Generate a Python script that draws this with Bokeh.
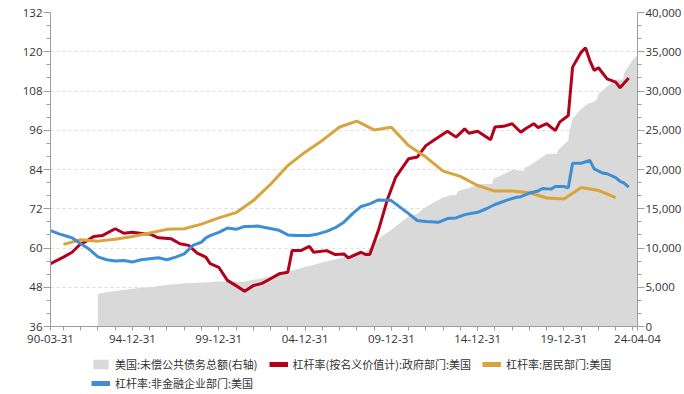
import datetime as dt
from bokeh.plotting import figure
from bokeh.layouts import column
from bokeh.models import (Range1d, LinearAxis, FixedTicker, NumeralTickFormatter,
                          Legend, LegendItem)
from bokeh.embed import file_html
from bokeh.resources import INLINE

# ---------------- data ----------------
# US public debt outstanding (right axis), month-end dates
debt_dates = ["1992-12", "1993-06", "1993-12", "1994-06", "1994-12", "1995-06", "1995-12",
              "1996-06", "1996-12", "1997-06", "1997-12", "1998-06", "1998-12", "1999-06",
              "1999-12", "2000-06", "2000-12", "2001-06", "2001-12", "2002-06", "2002-12",
              "2003-06", "2003-12", "2004-06", "2004-12", "2005-06", "2005-12", "2006-06",
              "2006-12", "2007-06", "2007-12", "2008-06", "2008-09", "2008-12", "2009-06",
              "2009-12", "2010-06", "2010-12", "2011-06", "2011-08", "2011-12", "2012-06",
              "2012-12", "2013-06", "2013-09", "2013-10", "2013-12", "2014-06", "2014-12",
              "2015-06", "2015-10", "2015-11", "2015-12", "2016-06", "2016-12", "2017-06",
              "2017-08", "2017-09", "2017-12", "2018-06", "2018-12", "2019-06", "2019-07",
              "2019-08", "2019-12", "2020-03", "2020-04", "2020-06", "2020-12", "2021-06",
              "2021-07", "2021-11", "2021-12", "2022-06", "2022-12", "2023-01", "2023-05",
              "2023-06", "2023-09", "2023-12", "2024-03", "2024-04-04"]
debt_values = [4170, 4350, 4530, 4650, 4800, 4950, 5000,
               5160, 5320, 5380, 5500, 5550, 5610, 5640,
               5780, 5690, 5660, 5730, 5940, 6130, 6400,
               6670, 7000, 7270, 7600, 7840, 8170, 8420,
               8680, 8870, 9230, 9490, 10020, 10700, 11550,
               12310, 13200, 14030, 14340, 14680, 15220, 15860,
               16430, 16740, 16740, 17160, 17350, 17630, 18140,
               18150, 18150, 18830, 18920, 19380, 19980, 19840,
               19840, 20240, 20490, 21200, 21970, 22020, 22020,
               22470, 23200, 23690, 24970, 26480, 27750, 28530,
               28430, 28910, 29620, 30570, 31420, 31450, 31460,
               32330, 33170, 34000, 34590, 34620]

# Government leverage ratio (nominal)
gov_dates = ["1990-03", "1990-12", "1991-06", "1991-12", "1992-03", "1992-09", "1993-03",
             "1993-12", "1994-06", "1994-12", "1995-09", "1995-12", "1996-06", "1997-03",
             "1997-09", "1998-03", "1998-09", "1999-03", "1999-06", "1999-12", "2000-06",
             "2000-12", "2001-06", "2001-12", "2002-06", "2002-12", "2003-06", "2003-12",
             "2004-03", "2004-09", "2005-03", "2005-06", "2006-03", "2006-09", "2007-03",
             "2007-06", "2008-03", "2008-06", "2008-09", "2009-03", "2009-09", "2010-03",
             "2010-12", "2011-06", "2011-12", "2012-06", "2013-03", "2013-09", "2014-03",
             "2014-06", "2014-12", "2015-09", "2015-12", "2016-06", "2016-12", "2017-06",
             "2017-09", "2018-03", "2018-06", "2018-12", "2019-06", "2019-09", "2020-03",
             "2020-06", "2020-12", "2021-03", "2021-06", "2021-09", "2021-12", "2022-06",
             "2022-12", "2023-03", "2023-09"]
gov_values = [55.2, 57.2, 58.7, 61.3, 61.8, 63.5, 63.8,
              65.9, 64.5, 64.8, 64.3, 64.3, 63.1, 62.8,
              61.3, 60.8, 58.4, 57.2, 55.2, 54.1, 50.1,
              48.5, 46.8, 48.5, 49.2, 50.6, 52.1, 52.6,
              59.2, 59.2, 60.5, 58.7, 59.2, 58.0, 58.2,
              57.0, 58.7, 58.0, 58.0, 65.4, 74.5, 81.6,
              87.3, 87.8, 91.3, 93.1, 95.7, 93.9, 96.4,
              95.1, 95.7, 93.1, 97.0, 97.2, 98.0, 95.4,
              96.4, 98.0, 96.8, 98.0, 95.9, 98.5, 100.5,
              115.3, 119.9, 121.2, 117.3, 114.3, 115.1, 111.7,
              110.7, 109.0, 112.0]

# Household leverage ratio (annual)
hh_dates = ["%d-12" % y for y in range(1990, 2023)]
hh_values = [61.1, 62.5, 62.1, 62.7, 63.5, 64.6, 65.7, 65.9, 67.3, 69.2,
             70.8, 74.5, 79.5, 85.2, 89.3, 92.9, 97.0, 98.8, 96.1, 96.9,
             91.3, 87.8, 83.5, 81.9, 79.1, 77.4, 77.4, 76.9, 75.3, 75.0,
             78.5, 77.6, 75.4]

# Non-financial corporate leverage ratio
corp_dates = ["1990-03", "1990-09", "1991-03", "1991-06", "1991-12", "1992-06", "1992-12",
              "1993-06", "1993-12", "1994-06", "1994-12", "1995-06", "1995-12", "1996-06",
              "1996-12", "1997-06", "1997-12", "1998-06", "1998-12", "1999-03", "1999-06",
              "1999-12", "2000-06", "2000-12", "2001-06", "2002-03", "2002-09", "2003-06",
              "2003-12", "2004-06", "2005-03", "2005-09", "2006-03", "2006-09", "2007-03",
              "2007-09", "2008-03", "2008-09", "2009-03", "2009-12", "2010-06", "2010-12",
              "2011-06", "2011-12", "2012-09", "2013-03", "2013-09", "2014-03", "2014-12",
              "2015-06", "2015-12", "2016-09", "2017-03", "2017-06", "2017-12", "2018-06",
              "2018-09", "2019-03", "2019-06", "2019-12", "2020-03", "2020-06", "2020-12",
              "2021-06", "2021-09", "2022-03", "2022-06", "2022-12", "2023-03", "2023-06",
              "2023-09"]
corp_values = [65.3, 64.3, 63.5, 63.1, 61.3, 59.6, 57.3,
               56.4, 56.0, 56.2, 55.7, 56.4, 56.7, 57.0,
               56.4, 57.2, 58.2, 60.8, 61.8, 63.1, 63.8,
               64.8, 66.1, 65.7, 66.6, 66.7, 66.2, 65.4,
               64.0, 63.8, 63.8, 64.3, 65.1, 66.2, 67.9,
               70.5, 72.7, 73.5, 74.7, 74.5, 72.5, 70.5,
               68.4, 68.1, 67.9, 69.0, 69.2, 70.2, 70.9,
               72.0, 73.3, 74.7, 75.5, 75.7, 76.8, 77.4,
               78.2, 78.0, 78.8, 78.8, 78.4, 85.9, 85.9,
               86.8, 84.2, 82.9, 82.7, 81.5, 80.4, 79.8,
               78.6]

x_tick_dates = ["1990-03-31", "1994-12-31", "1999-12-31", "2004-12-31",
                "2009-12-31", "2014-12-31", "2019-12-31", "2024-04-04"]
x_tick_labels = ["90-03-31", "94-12-31", "99-12-31", "04-12-31",
                 "09-12-31", "14-12-31", "19-12-31", "24-04-04"]
x_minor_dates = ["%d-12-31" % y for y in range(1990, 2024)]
left_ticks = list(range(36, 133, 12))
right_ticks = list(range(0, 40001, 5000))

names = ["美国:未偿公共债务总额(右轴)", "杠杆率(按名义价值计):政府部门:美国",
         "杠杆率:居民部门:美国", "杠杆率:非金融企业部门:美国"]
colors = ["#D9D9D9", "#B3001B", "#D9A43C", "#3D8ED3"]


def dec(s):
    parts = [int(v) for v in s.split("-")]
    if len(parts) == 2:
        return parts[0] + parts[1] / 12.0
    y, m, d = parts
    nxt = dt.date(y + (m == 12), m % 12 + 1, 1)
    dim = (nxt - dt.date(y, m, 1)).days
    return y + (m - 1) / 12.0 + d / dim / 12.0


x_start = dec(x_tick_dates[0])
x_end = dec(x_tick_dates[-1])

p = figure(width=684, height=352, output_backend="svg", toolbar_location=None,
           x_range=Range1d(x_start, x_end), y_range=Range1d(36, 132),
           min_border_left=50, min_border_right=46, min_border_top=12,
           min_border_bottom=26)
p.extra_y_ranges = {"debt": Range1d(0, 40000)}
p.outline_line_color = None
p.background_fill_color = "white"
p.border_fill_color = "white"

tick_font = "Open Sans"
axis_col = "#9E9E9E"
lab_col = "#333333"

# x axis
xa = p.xaxis[0]
xt = [round(dec(s), 9) for s in x_tick_dates]
xa.ticker = FixedTicker(ticks=xt, minor_ticks=[dec(s) for s in x_minor_dates] + [xt[-1]])
xa.major_label_overrides = {t: l for t, l in zip(xt, x_tick_labels)}
xa.major_tick_out = 4
xa.major_tick_in = 0
xa.minor_tick_out = 4
xa.minor_tick_in = 0
xa.major_label_standoff = 4

# left axis
ya = p.yaxis[0]
ya.ticker = FixedTicker(ticks=left_ticks, minor_ticks=list(range(36, 133, 4)))
ya.major_tick_out = 7
ya.major_tick_in = 0
ya.minor_tick_out = 4
ya.minor_tick_in = 0
ya.major_label_standoff = 1

# right axis
ra = LinearAxis(y_range_name="debt",
                ticker=FixedTicker(ticks=right_ticks,
                                   minor_ticks=[i * 5000 / 3 for i in range(25)]),
                formatter=NumeralTickFormatter(format="0,0"))
ra.major_tick_out = 7
ra.major_tick_in = 0
ra.minor_tick_out = 4
ra.minor_tick_in = 0
ra.major_label_standoff = 1
p.add_layout(ra, "right")

for ax in (xa, ya, ra):
    ax.axis_line_color = axis_col
    ax.major_tick_line_color = axis_col
    ax.minor_tick_line_color = axis_col
    ax.major_label_text_font = tick_font
    ax.major_label_text_font_size = "11.5px"
    ax.major_label_text_color = lab_col

p.xgrid.visible = False
p.ygrid.ticker = FixedTicker(ticks=left_ticks)
p.ygrid.grid_line_color = "#DDDDDD"
p.ygrid.grid_line_dash = "3 3"

# glyphs
p.varea(x=[dec(s) for s in debt_dates], y1=0, y2=debt_values,
        y_range_name="debt", fill_color=colors[0])
p.line([dec(s) for s in gov_dates], gov_values, line_color=colors[1], line_width=3)
p.line([dec(s) for s in hh_dates], hh_values, line_color=colors[2], line_width=3)
p.line([dec(s) for s in corp_dates], corp_values, line_color=colors[3], line_width=3)

# ---------------- legend strip ----------------
lg = figure(width=684, height=42, output_backend="svg", toolbar_location=None,
            x_range=Range1d(0, 1), y_range=Range1d(0, 1),
            x_axis_type=None, y_axis_type=None,
            min_border_left=0, min_border_right=0, min_border_top=0, min_border_bottom=0)
lg.outline_line_color = None
lg.xgrid.visible = False
lg.ygrid.visible = False
lg.background_fill_color = "white"
lg.border_fill_color = "white"

# legend proxies placed outside the visible range
proxy_area = lg.varea(x=[5, 6], y1=[0, 0], y2=[1, 1], fill_color=colors[0])
proxies = [lg.line([5, 6], [0, 0], line_color=c, line_width=5) for c in colors[1:]]
renderers = [proxy_area] + proxies


def make_legend(idx, loc):
    leg = Legend(items=[LegendItem(label=names[i], renderers=[renderers[i]]) for i in idx],
                 orientation="horizontal", location=loc)
    leg.label_text_font = "Noto Sans CJK SC"
    leg.label_text_font_size = "11px"
    leg.label_text_color = lab_col
    leg.glyph_width = 19
    leg.glyph_height = 12
    leg.label_height = 12
    leg.label_standoff = 5
    leg.spacing = 11
    leg.padding = 2
    leg.margin = 0
    leg.border_line_color = None
    leg.background_fill_alpha = 0
    return leg


lg.add_layout(make_legend([0, 1, 2], (41, 22)), "center")
lg.add_layout(make_legend([3], (41, 3)), "center")

layout = column(p, lg, spacing=0)
open("out.html", "w").write(file_html(layout, INLINE))
